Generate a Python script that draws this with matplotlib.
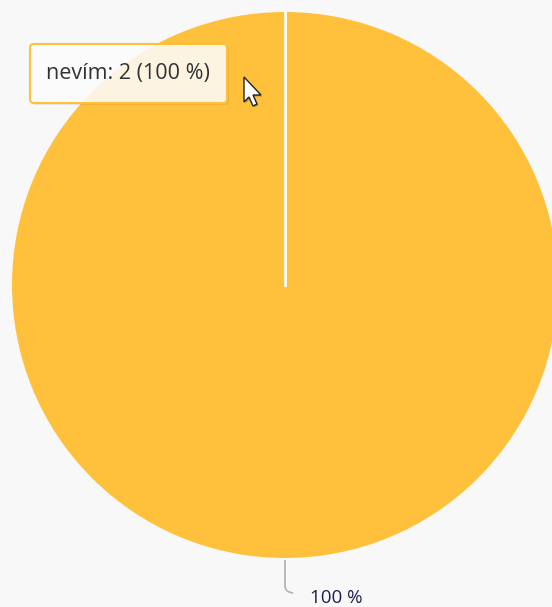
import numpy as np
import matplotlib.pyplot as plt
from matplotlib.patches import FancyBboxPatch, Polygon
from matplotlib.path import Path
from matplotlib.patches import PathPatch

labels = ["nevím"]
counts = [2]
colors = ["#FFC13B"]

total = sum(counts)
pcts = [100.0 * c / total for c in counts]

fig = plt.figure(figsize=(5.52, 6.07), dpi=100)
fig.patch.set_facecolor("#f8f8f8")
ax = fig.add_axes([0, 0, 1, 1])
ax.set_facecolor("#f8f8f8")

cx, cy, r = 285, 285, 273
wedges, _ = ax.pie(counts, colors=colors, startangle=90, counterclock=False,
                   center=(cx, cy), radius=r, frame=True)
ax.set_xlim(0, 552)
ax.set_ylim(607, 0)
ax.set_aspect("equal")
ax.axis("off")

# slice border (start of the single slice)
ang = np.deg2rad(wedges[0].theta1)
ax.plot([cx, cx + r * np.cos(ang)], [cy, cy - r * np.sin(ang)], color="white", lw=2, zorder=3)

# data label with connector
verts = [(cx, cy + r + 2), (cx, cy + r + 28), (cx, cy + r + 34), (cx + 8, cy + r + 35)]
codes = [Path.MOVETO, Path.LINETO, Path.CURVE3, Path.CURVE3]
ax.add_patch(PathPatch(Path(verts, codes), fill=False, edgecolor="#b5b5b5", lw=1.3, zorder=3))
ax.text(cx + 25, cy + r + 40, "%d %%" % round(pcts[0]), fontsize=13.5, color="#1f1f4f",
        family=["Open Sans", "DejaVu Sans"], ha="left", va="center")

# tooltip
shadow = FancyBboxPatch((32, 46), 197, 59, boxstyle="round,pad=0,rounding_size=4",
                        facecolor="black", alpha=0.07, edgecolor="none", zorder=4)
ax.add_patch(shadow)
tip = FancyBboxPatch((30, 44), 197, 59, boxstyle="round,pad=0,rounding_size=4",
                     facecolor=(1, 1, 1, 0.85), edgecolor=colors[0], lw=1.5, zorder=5)
ax.add_patch(tip)
ax.text(128, 73, "%s: %d (%d %%)" % (labels[0], counts[0], round(pcts[0])), fontsize=15.5,
        color="#333333", family=["Open Sans", "DejaVu Sans"], ha="center", va="center", zorder=6)

# mouse cursor
cur = np.array([[0, 0], [0, 25], [5, 20], [9, 29], [13, 27], [9, 18], [17, 18]], dtype=float)
ax.add_patch(Polygon(cur + [245.5, 78.5], closed=True, facecolor="black", alpha=0.25,
                     edgecolor="none", zorder=7))
ax.add_patch(Polygon(cur + [244, 77], closed=True, facecolor="white", edgecolor="#222222",
                     lw=1, zorder=7))

fig.savefig("out.png", dpi=100, facecolor=fig.get_facecolor())
